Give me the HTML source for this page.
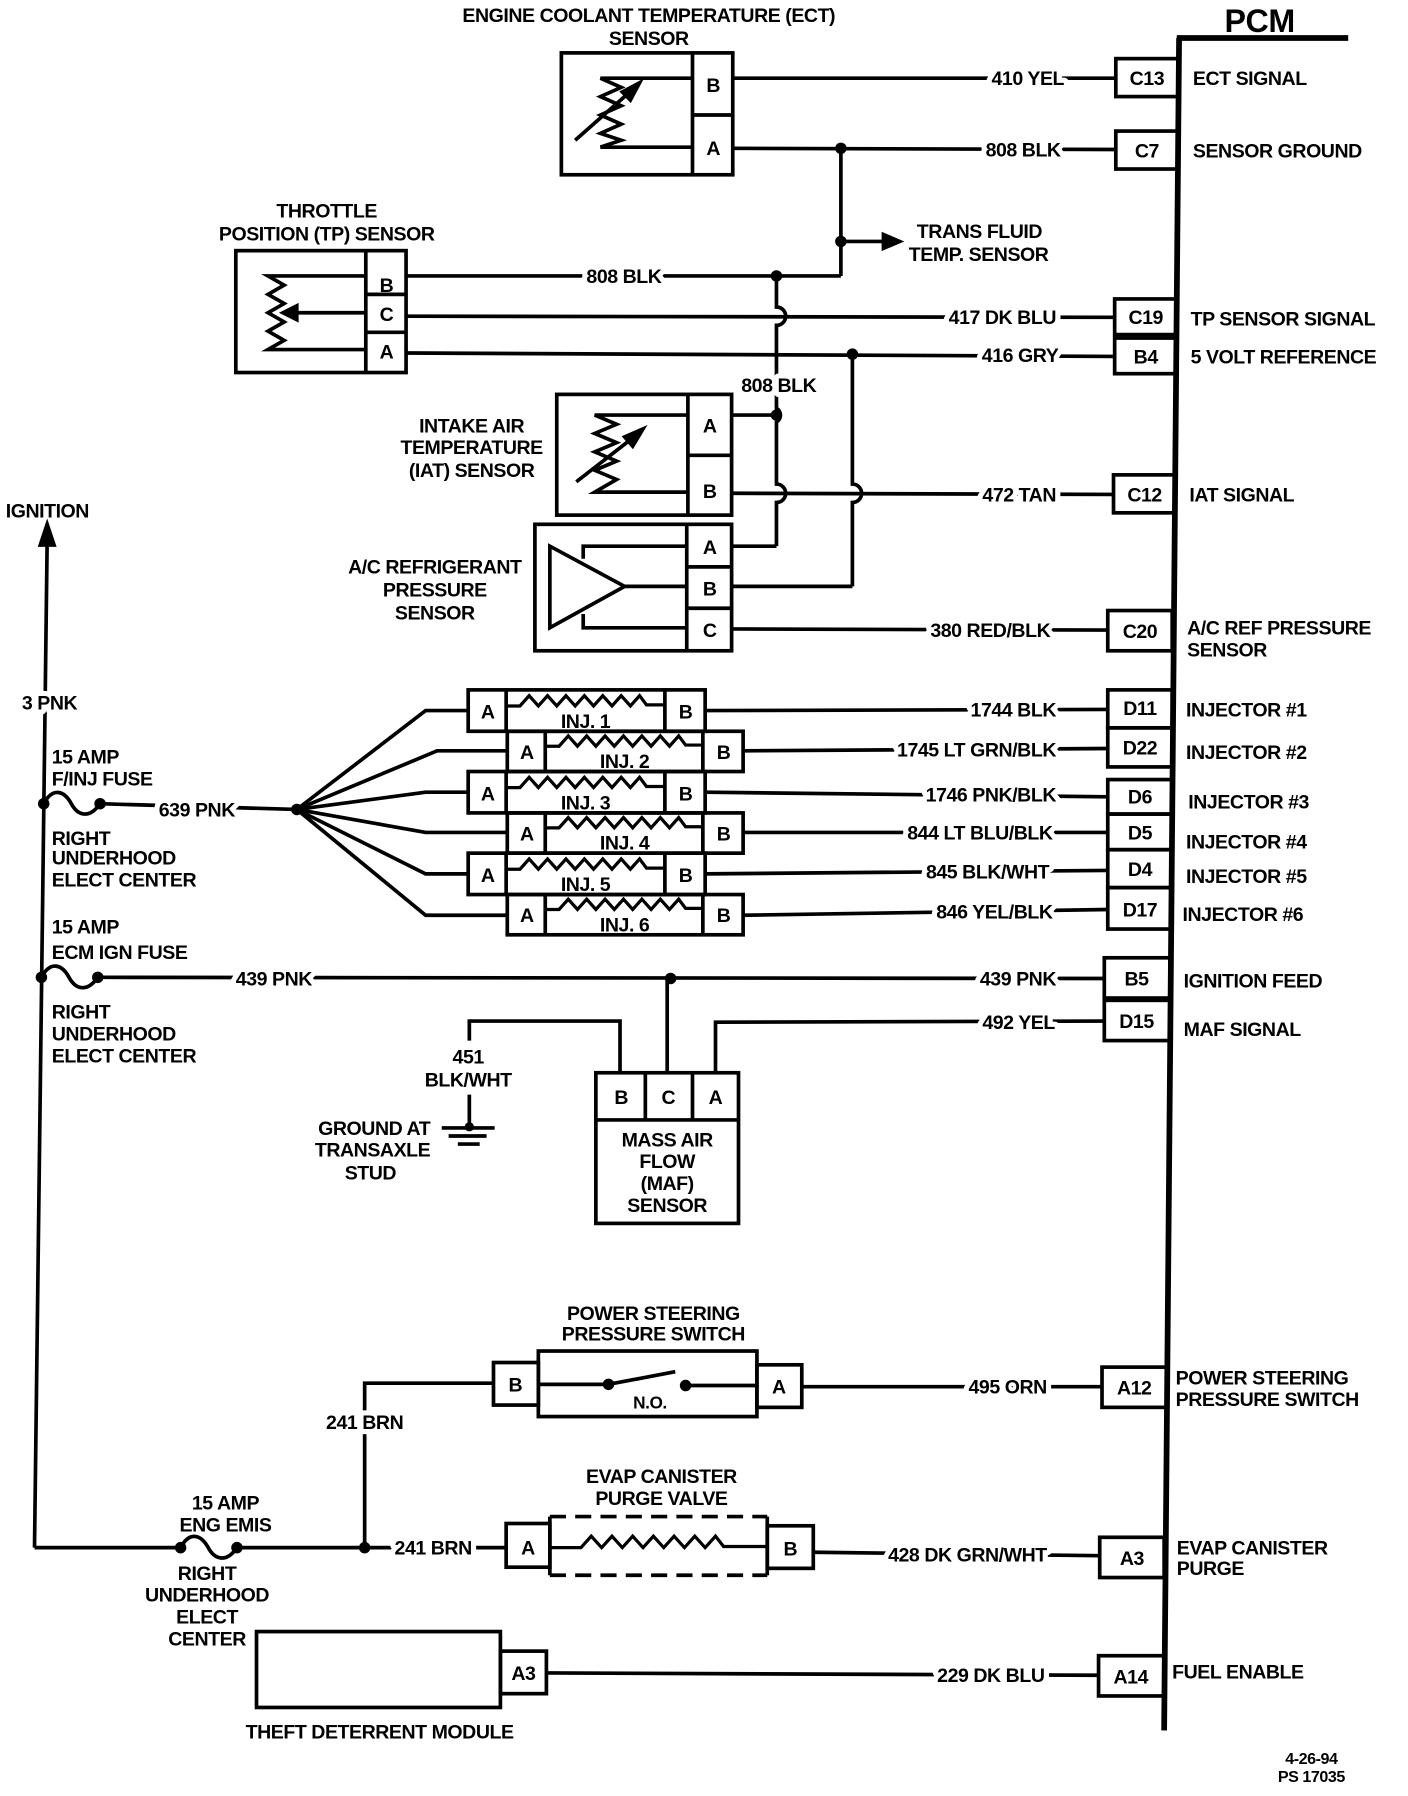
<!DOCTYPE html>
<html><head><meta charset="utf-8"><style>
html,body{margin:0;padding:0;background:#fff}
svg{display:block}
text{font-family:"Liberation Sans",sans-serif;font-weight:bold;font-size:17px;letter-spacing:-0.4px;fill:#000}
.h{stroke:#fff;stroke-width:9px;paint-order:stroke;stroke-linejoin:round}
.m{text-anchor:middle}
.e{text-anchor:end}
</style></head><body>
<svg width="1408" height="1796" viewBox="0 0 1224 1562" preserveAspectRatio="none" xmlns="http://www.w3.org/2000/svg">
<g fill="none" stroke="#000" stroke-width="3.2">
<!-- PCM -->
<line x1="1025" y1="33" x2="1012" y2="1505" stroke-width="5"/>
<line x1="1023" y1="33" x2="1172" y2="33" stroke-width="5"/>
<!-- PCM connector boxes -->
<rect x="970" y="51" width="54" height="33"/>
<rect x="970" y="114" width="54" height="33"/>
<rect x="969" y="260" width="54" height="31"/>
<rect x="969" y="294" width="54" height="31"/>
<rect x="968" y="413" width="54" height="33"/>
<rect x="963" y="531" width="56" height="35"/>
<rect x="963" y="600" width="56" height="33"/>
<rect x="963" y="633" width="56" height="34"/>
<rect x="963" y="678" width="56" height="30"/>
<rect x="963" y="708" width="56" height="31"/>
<rect x="963" y="739" width="56" height="33"/>
<rect x="963" y="772" width="56" height="36"/>
<rect x="960" y="833" width="57" height="35"/>
<rect x="960" y="870" width="57" height="35"/>
<rect x="958" y="1189" width="56" height="35"/>
<rect x="956" y="1337" width="56" height="35"/>
<rect x="955" y="1440" width="57" height="35"/>

<!-- ECT sensor -->
<rect x="488" y="46" width="149" height="106"/>
<line x1="602" y1="46" x2="602" y2="152"/>
<line x1="602" y1="100" x2="637" y2="100"/>
<polyline points="601,68 522,68 540,76 522,84 540,92 522,100 540,108 522,116 540,122 522,128 601,128"/>
<line x1="500" y1="122" x2="552" y2="76"/>
<polygon points="556,72 541,80 548,87" fill="#000"/>
<!-- TP sensor -->
<rect x="205" y="218" width="148" height="106"/>
<line x1="318" y1="218" x2="318" y2="324"/>
<line x1="318" y1="256" x2="353" y2="256"/>
<line x1="318" y1="289" x2="353" y2="289"/>
<polyline points="318,240 233,240 247,248 233,256 247,264 233,272 247,280 233,288 247,296 233,304 318,304"/>
<line x1="255" y1="272" x2="318" y2="272"/>
<polygon points="246,272 258,266 258,278" fill="#000"/>
<!-- IAT sensor -->
<rect x="484" y="343" width="152" height="105"/>
<line x1="598" y1="343" x2="598" y2="448"/>
<line x1="598" y1="396" x2="636" y2="396"/>
<polyline points="598,361 517,361 536,369 517,377 536,385 517,393 536,401 517,409 536,417 517,428 598,428"/>
<line x1="501" y1="419" x2="555" y2="377"/>
<polygon points="559,373 543,380 550,388" fill="#000"/>
<!-- A/C sensor -->
<rect x="465" y="456" width="171" height="110"/>
<line x1="597" y1="456" x2="597" y2="566"/>
<line x1="597" y1="493" x2="636" y2="493"/>
<line x1="597" y1="529" x2="636" y2="529"/>
<polygon points="478,475 478,546 543,510"/>
<polyline points="507,486 507,475 597,475"/>
<line x1="543" y1="510" x2="597" y2="510"/>
<polyline points="507,534 507,546 597,546"/>

<!-- ECT/TP wires -->
<line x1="637" y1="68" x2="970" y2="68"/>
<line x1="637" y1="129" x2="970" y2="130"/>
<line x1="731" y1="129" x2="731" y2="240"/>
<line x1="731" y1="210" x2="772" y2="210"/>
<polygon points="782,210 768,204 768,216" fill="#000"/>
<line x1="353" y1="240" x2="731" y2="240"/>
<path d="M675,240 V267 a8,8 0 0 1 0,16 V355 a7,7 0 0 1 0,12 V421 a8,8 0 0 1 0,16 V475"/>
<line x1="353" y1="275" x2="969" y2="276"/>
<line x1="353" y1="307" x2="969" y2="310"/>
<path d="M741,308 V421 a8,8 0 0 1 0,16 V510"/>
<line x1="636" y1="361" x2="675" y2="361"/>
<line x1="636" y1="429" x2="968" y2="430"/>
<line x1="636" y1="475" x2="675" y2="475"/>
<line x1="636" y1="510" x2="741" y2="510"/>
<line x1="636" y1="547" x2="963" y2="548"/>

<!-- Injectors -->
<g>
<rect x="407" y="600" width="206" height="36"/><line x1="440" y1="600" x2="440" y2="636"/><line x1="578" y1="600" x2="578" y2="636"/>
<rect x="441" y="636" width="205" height="35"/><line x1="474" y1="636" x2="474" y2="671"/><line x1="611" y1="636" x2="611" y2="671"/>
<rect x="407" y="671" width="206" height="36"/><line x1="440" y1="671" x2="440" y2="707"/><line x1="578" y1="671" x2="578" y2="707"/>
<rect x="441" y="707" width="205" height="35"/><line x1="474" y1="707" x2="474" y2="742"/><line x1="611" y1="707" x2="611" y2="742"/>
<rect x="407" y="742" width="206" height="36"/><line x1="440" y1="742" x2="440" y2="778"/><line x1="578" y1="742" x2="578" y2="778"/>
<rect x="441" y="778" width="205" height="35"/><line x1="474" y1="778" x2="474" y2="813"/><line x1="611" y1="778" x2="611" y2="813"/>
</g>
<g stroke-width="2.8">
<path d="M440,614 H452 l8,-9 l8,9 l8,-9 l8,9 l8,-9 l8,9 l8,-9 l8,9 l8,-9 l8,9 l8,-9 l8,9 l8,-9 l6,8 H578"/>
<path d="M474,649 H486 l8,-9 l8,9 l8,-9 l8,9 l8,-9 l8,9 l8,-9 l8,9 l8,-9 l8,9 l8,-9 l8,9 l8,-9 l6,8 H611"/>
<path d="M440,685 H452 l8,-9 l8,9 l8,-9 l8,9 l8,-9 l8,9 l8,-9 l8,9 l8,-9 l8,9 l8,-9 l8,9 l8,-9 l6,8 H578"/>
<path d="M474,720 H486 l8,-9 l8,9 l8,-9 l8,9 l8,-9 l8,9 l8,-9 l8,9 l8,-9 l8,9 l8,-9 l8,9 l8,-9 l6,8 H611"/>
<path d="M440,756 H452 l8,-9 l8,9 l8,-9 l8,9 l8,-9 l8,9 l8,-9 l8,9 l8,-9 l8,9 l8,-9 l8,9 l8,-9 l6,8 H578"/>
<path d="M474,791 H486 l8,-9 l8,9 l8,-9 l8,9 l8,-9 l8,9 l8,-9 l8,9 l8,-9 l8,9 l8,-9 l8,9 l8,-9 l6,8 H611"/>
</g>
<polyline points="258,704 370,618 407,618"/>
<polyline points="258,704 380,653 441,653"/>
<polyline points="258,704 370,689 407,689"/>
<polyline points="258,704 370,724 441,724"/>
<polyline points="258,704 370,760 407,760"/>
<polyline points="258,704 370,796 441,796"/>
<line x1="613" y1="618" x2="963" y2="617"/>
<line x1="646" y1="653" x2="963" y2="651"/>
<line x1="613" y1="689" x2="963" y2="693"/>
<line x1="646" y1="724" x2="963" y2="724"/>
<line x1="613" y1="760" x2="963" y2="757"/>
<line x1="646" y1="796" x2="963" y2="791"/>

<!-- Ignition feed -->
<line x1="41" y1="470" x2="30" y2="1346"/>
<polygon points="41,456 35,474 47,474" fill="#000"/>
<path d="M38,699 C46,684 56,688 62,699 C68,710 78,712 87,699"/>
<line x1="87" y1="699" x2="258" y2="704"/>
<path d="M36,850 C44,835 54,839 60,850 C66,861 76,863 85,850"/>
<line x1="85" y1="850" x2="960" y2="851"/>
<!-- MAF -->
<rect x="518" y="933" width="124" height="131"/>
<line x1="518" y1="974" x2="642" y2="974"/>
<line x1="561" y1="933" x2="561" y2="974"/>
<line x1="602" y1="933" x2="602" y2="974"/>
<line x1="580" y1="851" x2="580" y2="933"/>
<polyline points="539,933 539,888 408,888 408,905"/>
<line x1="408" y1="952" x2="408" y2="981"/>
<polyline points="622,933 622,889 960,888"/>
<line x1="384" y1="981" x2="430" y2="981"/>
<line x1="390" y1="988" x2="423" y2="988"/>
<line x1="398" y1="995" x2="417" y2="995"/>
<!-- Power steering -->
<rect x="468" y="1175" width="190" height="57"/>
<rect x="429" y="1185" width="39" height="37"/>
<rect x="658" y="1187" width="39" height="37"/>
<line x1="468" y1="1204" x2="529" y2="1204"/>
<line x1="529" y1="1204" x2="587" y2="1193"/>
<line x1="596" y1="1205" x2="658" y2="1205"/>
<line x1="697" y1="1206" x2="958" y2="1206"/>
<polyline points="429,1203 317,1203 317,1346"/>
<!-- EVAP -->
<line x1="478" y1="1319" x2="478" y2="1370"/>
<line x1="667" y1="1319" x2="667" y2="1370"/>
<line x1="478" y1="1319" x2="667" y2="1319" stroke-dasharray="14,8"/>
<line x1="478" y1="1370" x2="667" y2="1370" stroke-dasharray="14,8"/>
<rect x="440" y="1325" width="38" height="38"/>
<rect x="667" y="1327" width="40" height="37"/>
<path d="M478,1346 H505 l9,-10 l9,10 l9,-10 l9,10 l9,-10 l9,10 l9,-10 l9,10 l9,-10 l9,10 l9,-10 l9,10 l9,-10 l7,9 H667" stroke-width="2.8"/>
<line x1="707" y1="1350" x2="956" y2="1353"/>
<line x1="30" y1="1346" x2="157" y2="1346"/>
<path d="M157,1346 C165,1331 175,1335 181,1346 C187,1357 197,1359 206,1346"/>
<line x1="206" y1="1346" x2="440" y2="1346"/>
<!-- Theft -->
<rect x="223" y="1419" width="212" height="66"/>
<rect x="435" y="1436" width="40" height="37"/>
<line x1="475" y1="1455" x2="955" y2="1457"/>
</g>
<!-- dots -->
<g fill="#000">
<circle cx="731" cy="129" r="5"/><circle cx="731" cy="210" r="5"/>
<circle cx="675" cy="240" r="5"/><circle cx="741" cy="308" r="5"/>
<circle cx="675" cy="361" r="5"/><circle cx="258" cy="704" r="5"/>
<circle cx="38" cy="699" r="5"/><circle cx="87" cy="699" r="5"/>
<circle cx="36" cy="850" r="5"/><circle cx="85" cy="850" r="5"/>
<circle cx="583" cy="851" r="5"/><circle cx="408" cy="980" r="4"/>
<circle cx="529" cy="1204" r="5"/><circle cx="596" cy="1205" r="5"/>
<circle cx="157" cy="1346" r="5"/><circle cx="206" cy="1346" r="5"/>
<circle cx="317" cy="1346" r="5"/>
</g>

<!-- texts -->
<text x="1095" y="28" class="m" style="font-size:28px">PCM</text>
<text x="564" y="19" class="m">ENGINE COOLANT TEMPERATURE (ECT)</text>
<text x="564" y="39" class="m">SENSOR</text>
<text x="284" y="189" class="m">THROTTLE</text>
<text x="284" y="209" class="m">POSITION (TP) SENSOR</text>
<text x="410" y="376" class="m">INTAKE AIR</text>
<text x="410" y="395" class="m">TEMPERATURE</text>
<text x="410" y="415" class="m">(IAT) SENSOR</text>
<text x="378" y="499" class="m">A/C REFRIGERANT</text>
<text x="378" y="519" class="m">PRESSURE</text>
<text x="378" y="539" class="m">SENSOR</text>
<text x="797" y="207">TRANS FLUID</text>
<text x="790" y="227">TEMP. SENSOR</text>
<!-- pin letters -->
<g class="m">
<text x="620" y="80" class="m">B</text><text x="620" y="135" class="m">A</text>
<text x="336" y="254" class="m">B</text><text x="336" y="279" class="m">C</text><text x="336" y="312" class="m">A</text>
<text x="617" y="376" class="m">A</text><text x="617" y="433" class="m">B</text>
<text x="617" y="482" class="m">A</text><text x="617" y="518" class="m">B</text><text x="617" y="554" class="m">C</text>
<text x="424" y="625" class="m">A</text><text x="596" y="625" class="m">B</text>
<text x="458" y="660" class="m">A</text><text x="629" y="660" class="m">B</text>
<text x="424" y="696" class="m">A</text><text x="596" y="696" class="m">B</text>
<text x="458" y="731" class="m">A</text><text x="629" y="731" class="m">B</text>
<text x="424" y="767" class="m">A</text><text x="596" y="767" class="m">B</text>
<text x="458" y="802" class="m">A</text><text x="629" y="802" class="m">B</text>
<text x="509" y="633" class="m">INJ. 1</text><text x="543" y="668" class="m">INJ. 2</text>
<text x="509" y="704" class="m">INJ. 3</text><text x="543" y="739" class="m">INJ. 4</text>
<text x="509" y="775" class="m">INJ. 5</text><text x="543" y="810" class="m">INJ. 6</text>
<text x="540" y="960" class="m">B</text><text x="581" y="960" class="m">C</text><text x="622" y="960" class="m">A</text>
<text x="448" y="1210" class="m">B</text><text x="677" y="1212" class="m">A</text>
<text x="459" y="1352" class="m">A</text><text x="687" y="1353" class="m">B</text>
<text x="455" y="1461" class="m">A3</text>
</g>
<text x="580" y="997" class="m">MASS AIR</text>
<text x="580" y="1016" class="m">FLOW</text>
<text x="580" y="1035" class="m">(MAF)</text>
<text x="580" y="1054" class="m">SENSOR</text>
<text x="565" y="1225" class="m" style="font-size:15px">N.O.</text>
<text x="568" y="1148" class="m">POWER STEERING</text>
<text x="568" y="1166" class="m">PRESSURE SWITCH</text>
<text x="575" y="1290" class="m">EVAP CANISTER</text>
<text x="575" y="1309" class="m">PURGE VALVE</text>
<text x="330" y="1512" class="m">THEFT DETERRENT MODULE</text>
<text x="407" y="925" class="m">451</text>
<text x="407" y="945" class="m">BLK/WHT</text>
<text x="374" y="987" class="e">GROUND AT</text>
<text x="374" y="1006" class="e">TRANSAXLE</text>
<text x="322" y="1026" class="m">STUD</text>
<text x="196" y="1313" class="m">15 AMP</text>
<text x="196" y="1332" class="m">ENG EMIS</text>
<text x="180" y="1374" class="m">RIGHT</text>
<text x="180" y="1393" class="m">UNDERHOOD</text>
<text x="180" y="1412" class="m">ELECT</text>
<text x="180" y="1431" class="m">CENTER</text>
<text x="5" y="450">IGNITION</text>
<text x="19" y="617" class="h">3 PNK</text>
<text x="45" y="664">15 AMP</text>
<text x="45" y="683">F/INJ FUSE</text>
<text x="45" y="735">RIGHT</text>
<text x="45" y="752">UNDERHOOD</text>
<text x="45" y="771">ELECT CENTER</text>
<text x="45" y="812">15 AMP</text>
<text x="45" y="834">ECM IGN FUSE</text>
<text x="45" y="886">RIGHT</text>
<text x="45" y="905">UNDERHOOD</text>
<text x="45" y="924">ELECT CENTER</text>
<!-- wire labels -->
<text x="138" y="710" class="h">639 PNK</text>
<text x="205" y="857" class="h">439 PNK</text>
<text x="925" y="74" class="h e">410 YEL</text>
<text x="922" y="136" class="h e">808 BLK</text>
<text x="575" y="246" class="h e">808 BLK</text>
<text x="918" y="282" class="h e">417 DK BLU</text>
<text x="920" y="315" class="h e">416 GRY</text>
<text x="677" y="341" class="h m">808 BLK</text>
<text x="918" y="436" class="h e">472 TAN</text>
<text x="913" y="554" class="h e">380 RED/BLK</text>
<text x="918" y="623" class="h e">1744 BLK</text>
<text x="918" y="658" class="h e">1745 LT GRN/BLK</text>
<text x="918" y="697" class="h e">1746 PNK/BLK</text>
<text x="915" y="730" class="h e">844 LT BLU/BLK</text>
<text x="912" y="764" class="h e">845 BLK/WHT</text>
<text x="915" y="799" class="h e">846 YEL/BLK</text>
<text x="918" y="857" class="h e">439 PNK</text>
<text x="917" y="895" class="h e">492 YEL</text>
<text x="317" y="1243" class="h m">241 BRN</text>
<text x="910" y="1212" class="h e">495 ORN</text>
<text x="343" y="1352" class="h">241 BRN</text>
<text x="910" y="1358" class="h e">428 DK GRN/WHT</text>
<text x="908" y="1463" class="h e">229 DK BLU</text>
<!-- PCM box labels -->
<g class="m">
<text x="997" y="74" class="m">C13</text><text x="997" y="137" class="m">C7</text>
<text x="996" y="282" class="m">C19</text><text x="996" y="316" class="m">B4</text>
<text x="995" y="436" class="m">C12</text><text x="991" y="555" class="m">C20</text>
<text x="991" y="622" class="m">D11</text><text x="991" y="656" class="m">D22</text>
<text x="991" y="699" class="m">D6</text><text x="991" y="730" class="m">D5</text>
<text x="991" y="762" class="m">D4</text><text x="991" y="797" class="m">D17</text>
<text x="988" y="857" class="m">B5</text><text x="988" y="894" class="m">D15</text>
<text x="986" y="1213" class="m">A12</text><text x="984" y="1361" class="m">A3</text>
<text x="983" y="1464" class="m">A14</text>
</g>
<text x="1037" y="74">ECT SIGNAL</text>
<text x="1037" y="137">SENSOR GROUND</text>
<text x="1035" y="283">TP SENSOR SIGNAL</text>
<text x="1035" y="316">5 VOLT REFERENCE</text>
<text x="1034" y="436">IAT SIGNAL</text>
<text x="1032" y="552">A/C REF PRESSURE</text>
<text x="1032" y="571">SENSOR</text>
<text x="1031" y="623">INJECTOR #1</text>
<text x="1031" y="660">INJECTOR #2</text>
<text x="1033" y="703">INJECTOR #3</text>
<text x="1031" y="738">INJECTOR #4</text>
<text x="1031" y="768">INJECTOR #5</text>
<text x="1028" y="801">INJECTOR #6</text>
<text x="1029" y="859">IGNITION FEED</text>
<text x="1029" y="901">MAF SIGNAL</text>
<text x="1022" y="1204">POWER STEERING</text>
<text x="1022" y="1223">PRESSURE SWITCH</text>
<text x="1023" y="1352">EVAP CANISTER</text>
<text x="1023" y="1370">PURGE</text>
<text x="1019" y="1460">FUEL ENABLE</text>
<text x="1140" y="1534" class="m" style="font-size:14px">4-26-94</text>
<text x="1140" y="1550" class="m" style="font-size:14px">PS 17035</text>
</svg>
</body></html>
